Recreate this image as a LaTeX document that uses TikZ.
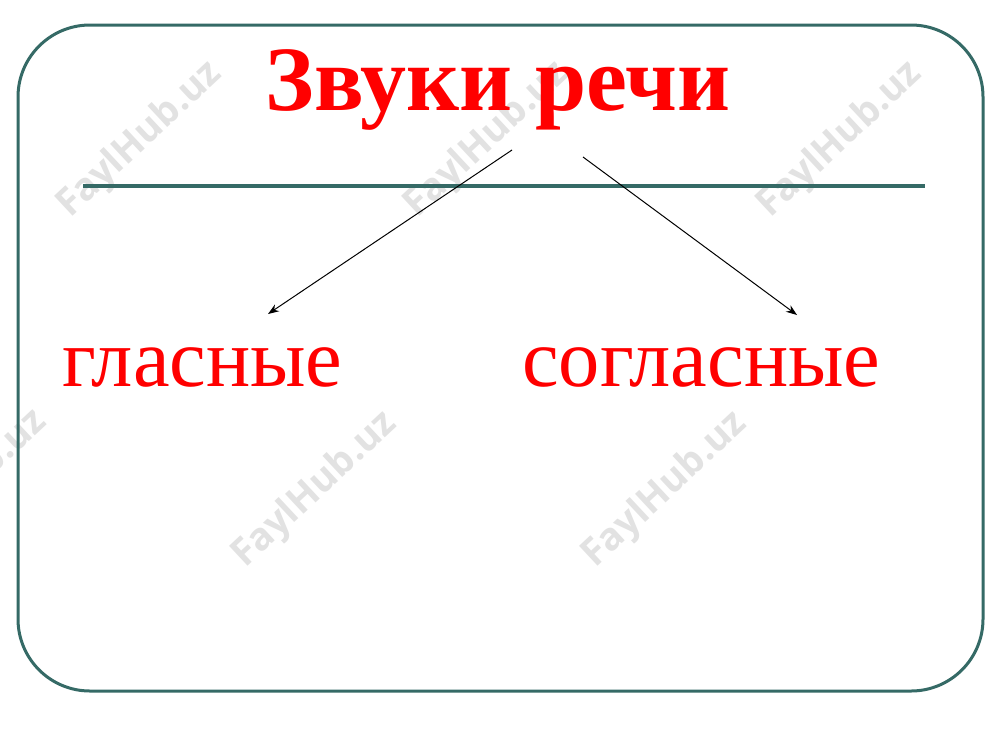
\documentclass[tikz,border=0pt]{standalone}
\usepackage{fontspec}
\setmainfont{Liberation Serif}
\newfontfamily\wmfont{Open Sans}
\usetikzlibrary{arrows.meta}
\definecolor{frame}{HTML}{356A66}
\definecolor{wmgray}{HTML}{E2E2E2}
\begin{document}
\begin{tikzpicture}[x=1pt,y=-1pt,
  wm/.style={font=\wmfont\bfseries\fontsize{38}{38}\selectfont, text=wmgray, rotate=43, inner sep=0},
  label/.style={font=\fontsize{82.5}{82.5}\selectfont, text=red, inner sep=0, anchor=base west},
  conn/.style={-{Stealth[length=11pt,width=8pt]}, line width=1pt, black}]
\useasboundingbox (0,0) rectangle (1000,750);
\fill[white] (0,0) rectangle (1000,750);
% watermarks
\node[wm] (w1) at (140,140) {FaylHub.uz};
\node[wm] (w2) at (487,140) {FaylHub.uz};
\node[wm] (w3) at (840,140) {FaylHub.uz};
\node[wm] (w4) at (-35,488) {FaylHub.uz};
\node[wm] (w5) at (315,490) {FaylHub.uz};
\node[wm] (w6) at (665,490) {FaylHub.uz};
% frame
\draw[frame, line width=3pt, rounded corners=72pt] (18,25) rectangle (983,691);
\draw[frame, line width=3.5pt] (83,186) -- (925,186);
% title
\node[font=\bfseries\fontsize{92}{92}\selectfont, text=red, inner sep=0, anchor=base] (title) at (498,110) {Звуки речи};
\node[label] (vow) at (62,386) {гласные};
\node[label] (cons) at (522,386) {согласные};
\coordinate (s1) at (512,150);
\coordinate (e1) at (268,314);
\coordinate (s2) at (583,157);
\coordinate (e2) at (797,315);
\draw[conn] (s1) -- (e1);
\draw[conn] (s2) -- (e2);
\end{tikzpicture}
\end{document}
